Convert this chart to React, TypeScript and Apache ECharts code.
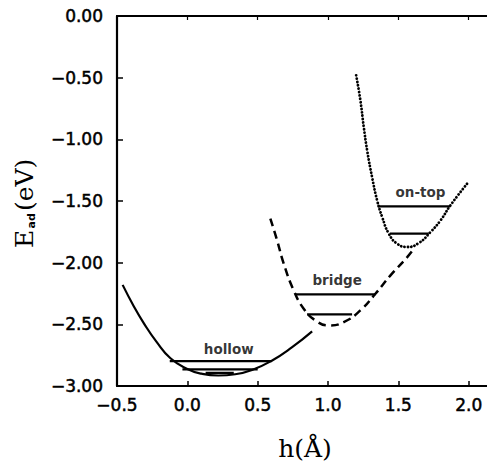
import React, { useEffect, useRef } from "react";
import * as echarts from "echarts";

// x axis ticks (h in Å)
const xTickValues = [-0.5, 0, 0.5, 1, 1.5, 2];
const xTopTickValues = [0, 0.5, 1, 1.5, 2];

// hollow site (solid curve)
const hollowX = [-0.46, -0.38, -0.31, -0.22, -0.12, 0.0, 0.1, 0.22, 0.34, 0.46, 0.6, 0.745, 0.887];
const hollowE = [-2.18, -2.355, -2.49, -2.64, -2.775, -2.862, -2.9, -2.915, -2.905, -2.87, -2.795, -2.685, -2.557];

// bridge site (dashed curve)
const bridgeX = [0.59, 0.638, 0.685, 0.756, 0.827, 0.91, 1.005, 1.112, 1.23, 1.337, 1.444, 1.563, 1.61];
const bridgeE = [-1.643, -1.819, -2.008, -2.225, -2.373, -2.468, -2.509, -2.482, -2.387, -2.252, -2.103, -1.955, -1.887];

// on-top site (dotted curve)
const ontopX = [1.2, 1.23, 1.254, 1.278, 1.313, 1.349, 1.385, 1.432, 1.491, 1.563, 1.645, 1.728, 1.8, 1.87, 1.989];
const ontopE = [-0.481, -0.684, -0.9, -1.089, -1.306, -1.495, -1.63, -1.765, -1.846, -1.873, -1.841, -1.752, -1.657, -1.535, -1.359];

// vibrational levels
const hollowLevelE = [-2.798, -2.866, -2.893];
const hollowLevelFrom = [-0.125, -0.035, 0.13];
const hollowLevelTo = [0.6, 0.5, 0.33];
const bridgeLevelE = [-2.257, -2.42];
const bridgeLevelFrom = [0.768, 0.851];
const bridgeLevelTo = [1.337, 1.171];
const ontopLevelE = [-1.543, -1.765];
const ontopLevelFrom = [1.354, 1.439];
const ontopLevelTo = [1.87, 1.716];

// site labels
const siteNames = ["hollow", "bridge", "on-top"];
const siteLabelX = [0.294, 1.065, 1.657];
const siteLabelE = [-2.703, -2.144, -1.427];

const fmt = (v: number, d: number) =>
  (v < -1e-9 ? "\u2212" : "") + Math.abs(v).toFixed(d);

const pairs = (xs: number[], ys: number[]) => xs.map((x, i) => [x, ys[i]]);

export default function App() {
  const ref = useRef<HTMLDivElement>(null);
  useEffect(() => {
    document.body.style.margin = "0";
    if (!ref.current) return;
    const chart = echarts.init(ref.current, undefined, { renderer: "svg" });

    const levelSeries: any[] = [];
    const addLevels = (es: number[], fr: number[], to: number[]) => {
      es.forEach((e, i) => {
        levelSeries.push({
          type: "line",
          data: [
            [fr[i], e],
            [to[i], e],
          ],
          symbol: "none",
          silent: true,
          lineStyle: { color: "#000", width: 2.3, type: "solid" },
        });
      });
    };
    addLevels(hollowLevelE, hollowLevelFrom, hollowLevelTo);
    addLevels(bridgeLevelE, bridgeLevelFrom, bridgeLevelTo);
    addLevels(ontopLevelE, ontopLevelFrom, ontopLevelTo);

    const tickLabel = {
      fontFamily: "DejaVu Sans",
      fontSize: 17,
      color: "#000",
      textBorderColor: "#000",
      textBorderWidth: 0.5,
    };

    chart.setOption({
      animation: false,
      backgroundColor: "#fff",
      grid: { left: 117, right: 0, top: 16, bottom: 77, containLabel: false },
      xAxis: [
        {
          type: "value",
          position: "bottom",
          min: -0.5,
          max: 2.13,
          axisLine: { onZero: false, lineStyle: { color: "#000", width: 2.2 } },
          axisTick: {
            inside: true,
            length: 5,
            customValues: xTickValues,
            lineStyle: { color: "#000", width: 1.5 },
          },
          axisLabel: {
            customValues: xTickValues,
            formatter: (v: number) => fmt(v, 1),
            margin: 10,
            ...tickLabel,
          },
          splitLine: { show: false },
        },
        {
          type: "value",
          position: "top",
          min: -0.5,
          max: 2.13,
          axisLine: { onZero: false, lineStyle: { color: "#000", width: 2.2 } },
          axisTick: {
            inside: true,
            length: 4,
            customValues: xTopTickValues,
            lineStyle: { color: "#000", width: 1.2 },
          },
          axisLabel: { show: false },
          splitLine: { show: false },
        },
      ],
      yAxis: {
        type: "value",
        min: -3,
        max: 0,
        interval: 0.5,
        axisLine: { show: true, onZero: false, lineStyle: { color: "#000", width: 2.2 } },
        axisTick: { inside: true, length: 6, lineStyle: { color: "#000", width: 1.5 } },
        axisLabel: {
          formatter: (v: number) => fmt(v, 2),
          margin: 14,
          ...tickLabel,
        },
        splitLine: { show: false },
      },
      series: [
        {
          type: "line",
          data: pairs(hollowX, hollowE),
          symbol: "none",
          smooth: 0.5,
          silent: true,
          lineStyle: { color: "#000", width: 2.2, type: "solid" },
        },
        {
          type: "line",
          data: pairs(bridgeX, bridgeE),
          symbol: "none",
          smooth: 0.5,
          silent: true,
          lineStyle: { color: "#000", width: 2.5, type: [8, 5] },
        },
        {
          type: "line",
          data: pairs(ontopX, ontopE),
          symbol: "none",
          smooth: 0.5,
          silent: true,
          lineStyle: { color: "#000", width: 2.8, type: [0.1, 3.3], cap: "round" },
        },
        ...levelSeries,
        {
          type: "scatter",
          symbolSize: 0,
          silent: true,
          data: siteNames.map((n, i) => ({ name: n, value: [siteLabelX[i], siteLabelE[i]] })),
          label: {
            show: true,
            position: "inside",
            formatter: (p: any) => p.name,
            fontFamily: "DejaVu Sans",
            fontWeight: "bold",
            fontSize: 13.5,
            color: "#000",
          },
        },
      ],
      graphic: [
        {
          type: "text",
          silent: true,
          style: {
            text: "h(\u00C5)",
            x: 305,
            y: 448,
            textAlign: "center",
            textVerticalAlign: "middle",
            font: '25px "DejaVu Serif"',
            fill: "#000",
          },
        },
        {
          type: "group",
          x: 24,
          y: 203,
          rotation: Math.PI / 2,
          silent: true,
          children: [
            {
              type: "text",
              style: {
                text: "E",
                x: -45,
                y: 0,
                textAlign: "left",
                textVerticalAlign: "middle",
                font: '25px "DejaVu Serif"',
                fill: "#000",
              },
            },
            {
              type: "text",
              style: {
                text: "ad",
                x: -25.5,
                y: 7,
                textAlign: "left",
                textVerticalAlign: "middle",
                font: 'bold 11px "DejaVu Sans"',
                fill: "#000",
              },
            },
            {
              type: "text",
              style: {
                text: "(eV)",
                x: -8,
                y: 0,
                textAlign: "left",
                textVerticalAlign: "middle",
                font: '25px "DejaVu Serif"',
                fill: "#000",
              },
            },
          ],
        },
      ],
    });
    return () => chart.dispose();
  }, []);
  return <div ref={ref} style={{ width: 487, height: 463 }} />;
}
